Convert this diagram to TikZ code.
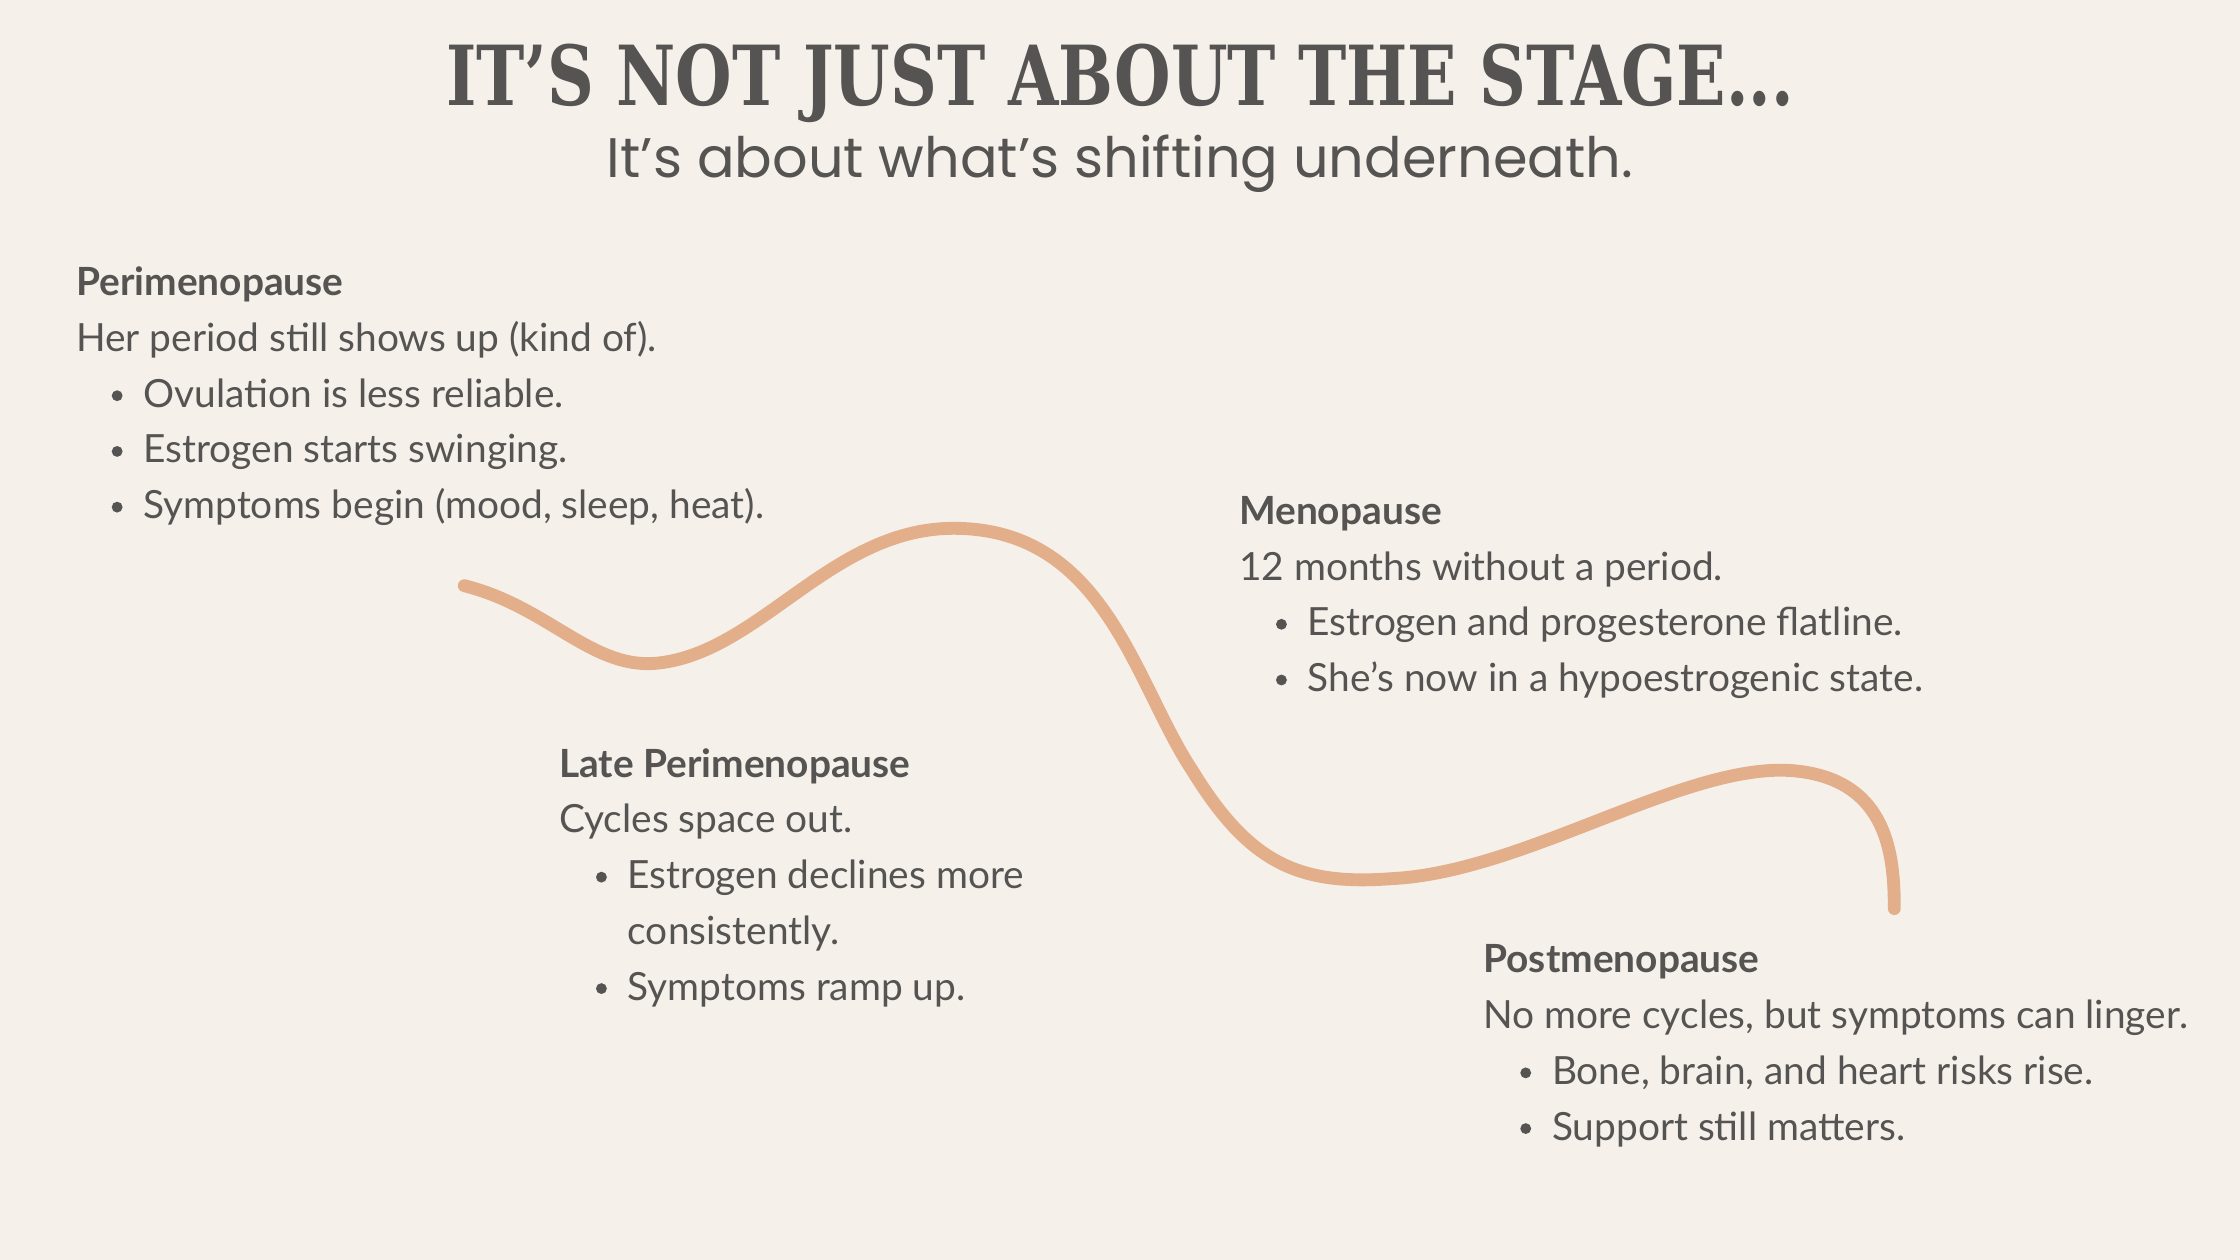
\documentclass[tikz,border=0pt]{standalone}
\usepackage{fontspec}
\setmainfont{Lato}
\newfontfamily\titlefont{DejaVu Serif Condensed}
\newfontfamily\subfont{Poppins}
\definecolor{bg}{HTML}{F5F0EA}
\definecolor{ink}{HTML}{555452}
\definecolor{wave}{HTML}{E3AE8A}
\begin{document}
\begin{tikzpicture}[x=0.5pt,y=-0.5pt,
  txt/.style={anchor=base west,inner sep=0,text=ink,font=\fontsize{13.6}{15}\selectfont},
  hd/.style={txt,font=\fontsize{13.6}{15}\selectfont\bfseries},
  dot/.style={circle,fill=ink,inner sep=0,minimum size=3.8pt}]
\fill[bg] (0,0) rectangle (1568,882);
\useasboundingbox (0,0) rectangle (1568,882);
\node[anchor=base,text=ink,inner sep=0,xscale=0.87,font=\titlefont\bfseries\fontsize{29}{30}\selectfont] (title) at (784,74) {IT’S NOT JUST ABOUT THE STAGE...};
\node[anchor=base,text=ink,inner sep=0,font=\subfont\fontsize{19.5}{22}\selectfont] (sub) at (784,124) {It’s about what’s shifting underneath.};
\draw[wave,line width=4.5pt,line cap=round] (325,410) .. controls (385,425) and (415,470) .. (462,464)
  .. controls (535,455) and (585,365) .. (675,370)
  .. controls (775,375) and (795,480) .. (835,540)
  .. controls (875,605) and (910,620) .. (975,615)
  .. controls (1070,610) and (1185,530) .. (1260,540)
  .. controls (1322,548) and (1326,600) .. (1326,636);
% block 1
\node[hd] (h1) at (53,207) {Perimenopause};
\node[txt] (a1) at (53,246) {Her period still shows up (kind of).};
\node[txt] (a2) at (100,285) {Ovulation is less reliable.};
\node[txt] (a3) at (100,324) {Estrogen starts swinging.};
\node[txt] (a4) at (100,363) {Symptoms begin (mood, sleep, heat).};
\foreach \y/\n in {285/p1,324/p2,363/p3} \node[dot] (\n) at (82,\y-8) {};
% block 2
\node[hd] (h2) at (867,367) {Menopause};
\node[txt] (b1) at (867,406) {12 months without a period.};
\node[txt] (b2) at (915,445) {Estrogen and progesterone flatline.};
\node[txt] (b3) at (915,484) {She’s now in a hypoestrogenic state.};
\foreach \y/\n in {445/q1,484/q2} \node[dot] (\n) at (897,\y-8) {};
% block 3
\node[hd] (h3) at (391,544) {Late Perimenopause};
\node[txt] (c1) at (391,583) {Cycles space out.};
\node[txt] (c2) at (439,622) {Estrogen declines more};
\node[txt] (c3) at (439,661) {consistently.};
\node[txt] (c4) at (439,700) {Symptoms ramp up.};
\foreach \y/\n in {622/r1,700/r2} \node[dot] (\n) at (421,\y-8) {};
% block 4
\node[hd] (h4) at (1038,681) {Postmenopause};
\node[txt] (d1) at (1038,720) {No more cycles, but symptoms can linger.};
\node[txt] (d2) at (1086,759) {Bone, brain, and heart risks rise.};
\node[txt] (d3) at (1086,798) {Support still matters.};
\foreach \y/\n in {759/s1,798/s2} \node[dot] (\n) at (1068,\y-8) {};
\end{tikzpicture}
\end{document}
